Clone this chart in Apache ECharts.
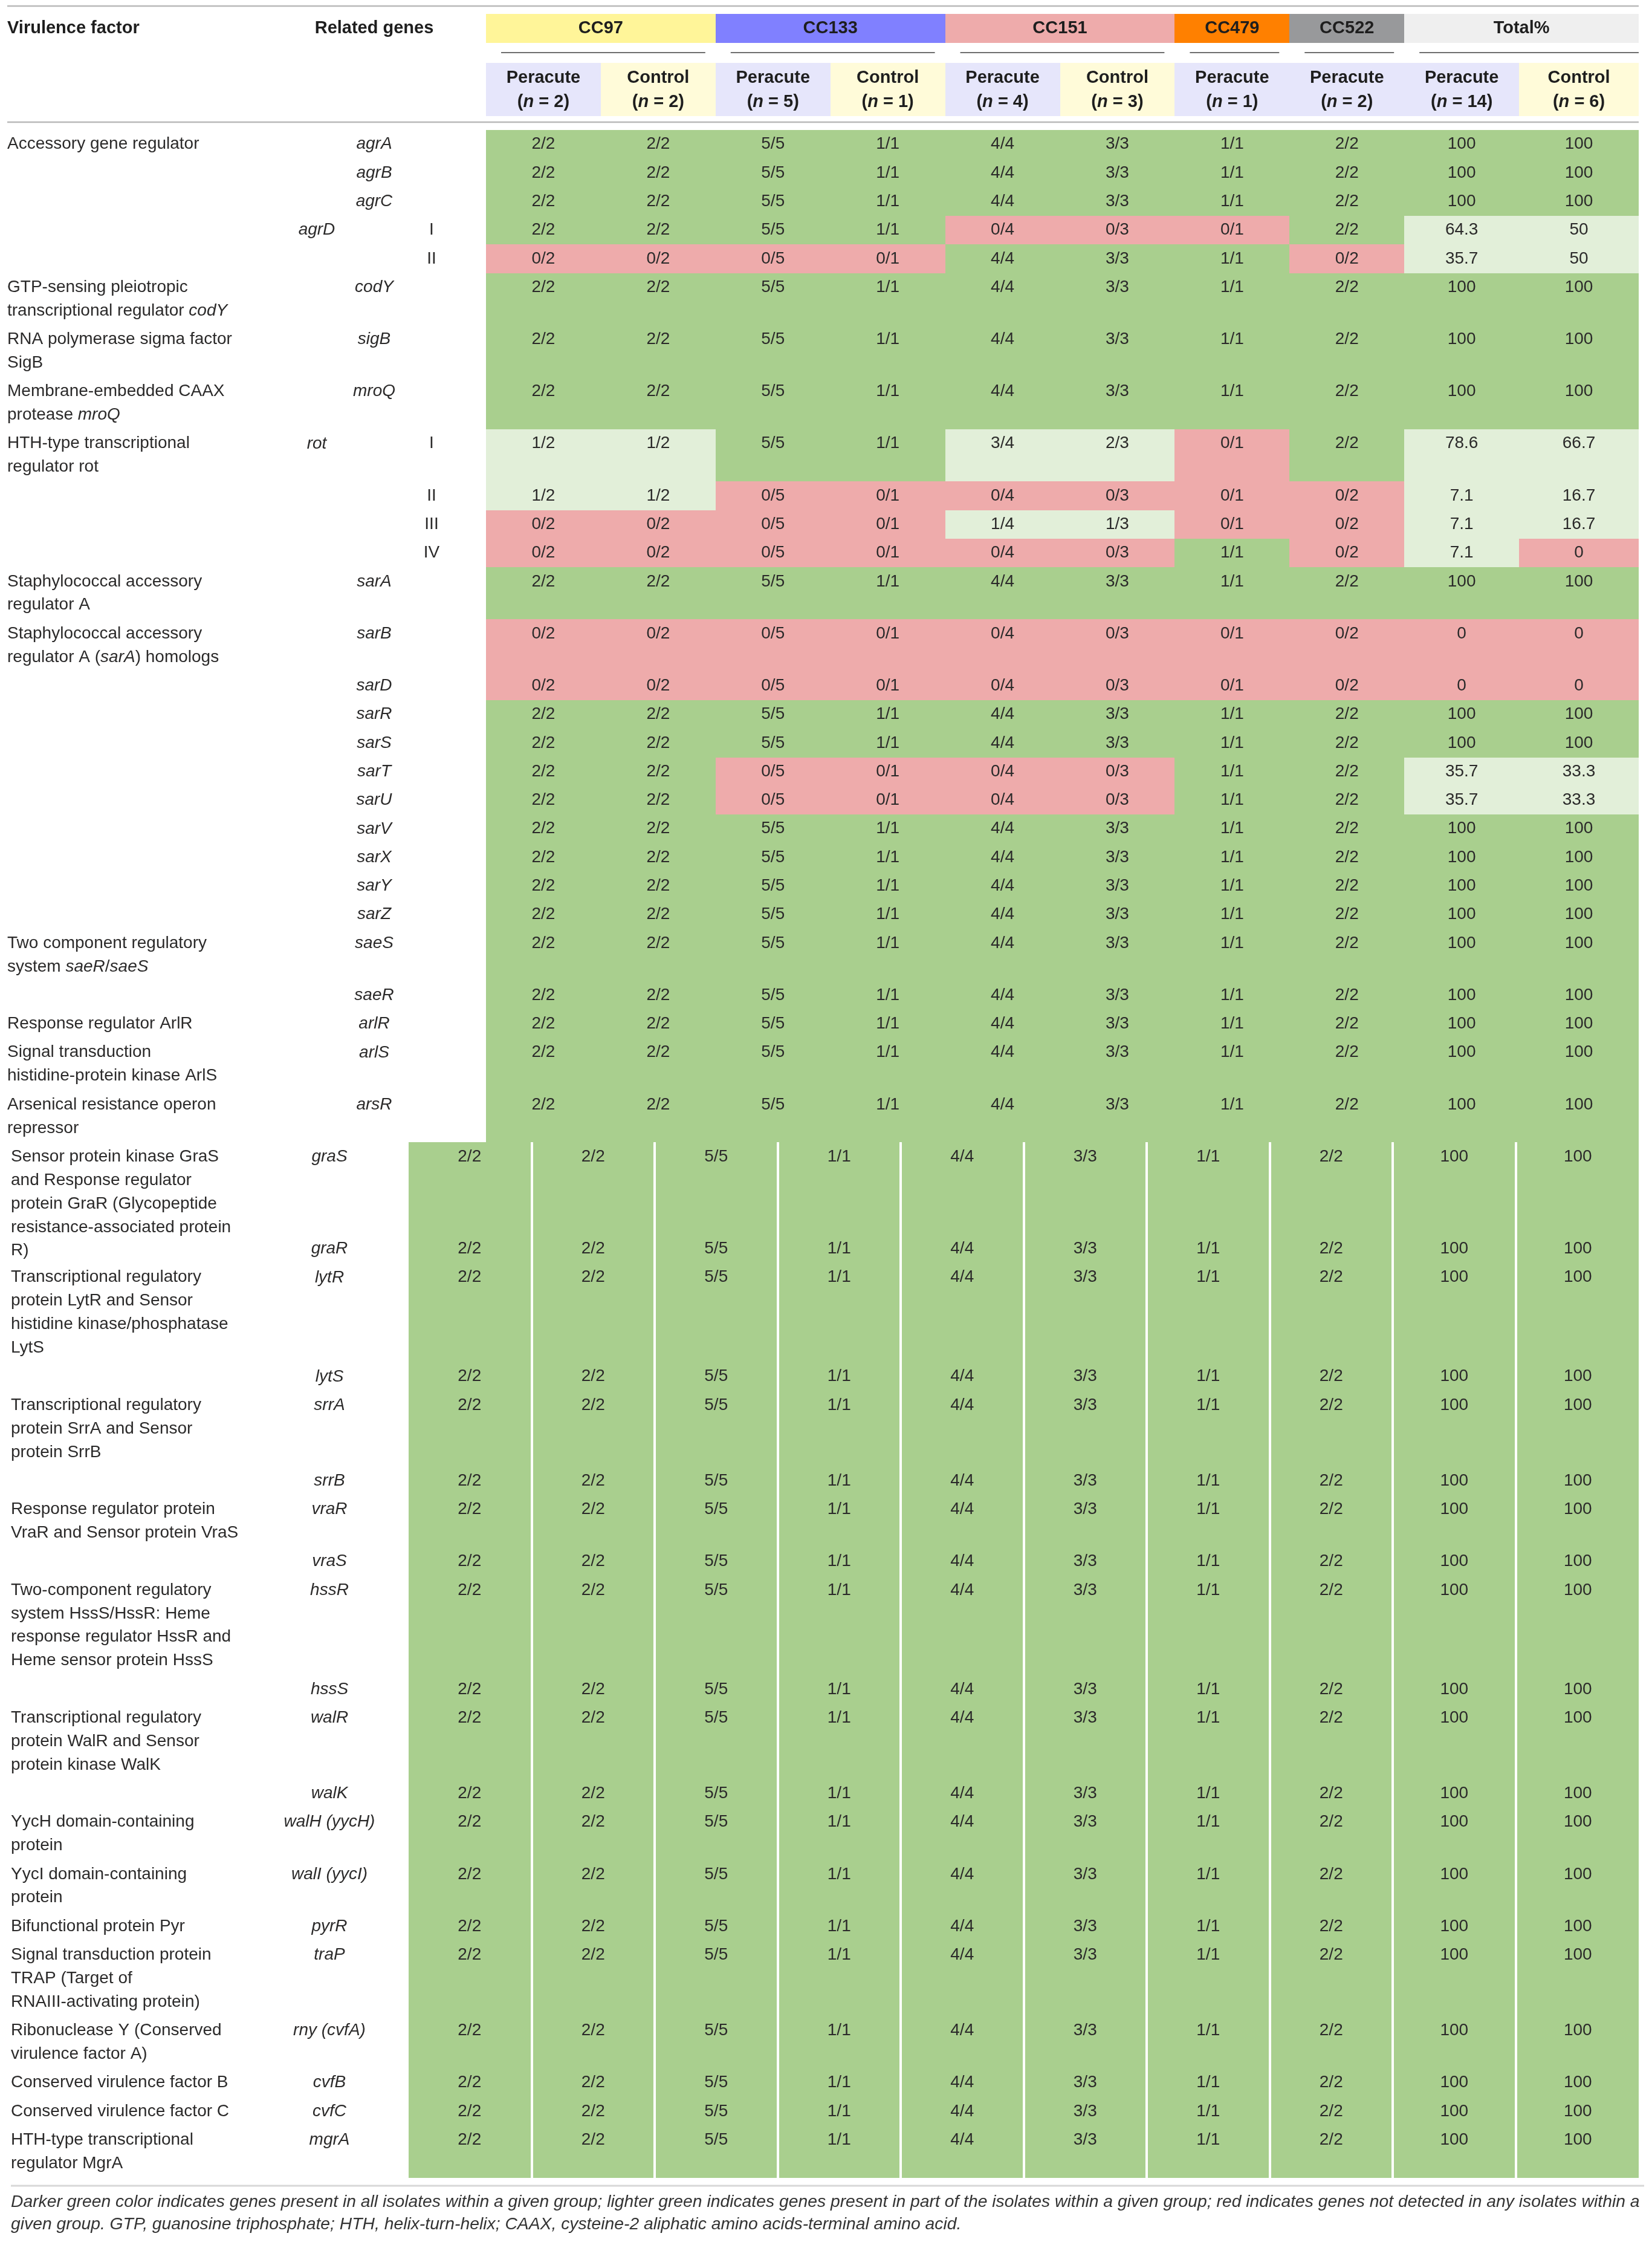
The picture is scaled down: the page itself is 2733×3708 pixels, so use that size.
<!DOCTYPE html>
<html>
<head>
<meta charset="utf-8">
<script src="https://cdn.jsdelivr.net/npm/echarts@6/dist/echarts.min.js"></script>
<style>
  html, body { margin: 0; padding: 0; background: #fff; }
  #main { width: 2733px; height: 3708px; }
</style>
</head>
<body>
<div id="main"></div>
<script>
// ---------- table content ----------
const groups = ['CC97', 'CC133', 'CC151', 'CC479', 'CC522', 'Total%'];
const groupSpan = [2, 2, 2, 1, 1, 2];
const subHeads = ['Peracute', 'Control', 'Peracute', 'Control', 'Peracute', 'Control', 'Peracute', 'Peracute', 'Peracute', 'Control'];
const subN = [2, 2, 5, 1, 4, 3, 1, 2, 14, 6];

// {i|...} marks italic words inside a description
const factors = [
  'Accessory gene regulator', '', '', '', '',
  'GTP-sensing pleiotropic\ntranscriptional regulator {i|codY}',
  'RNA polymerase sigma factor\nSigB',
  'Membrane-embedded CAAX\nprotease {i|mroQ}',
  'HTH-type transcriptional\nregulator rot', '', '', '',
  'Staphylococcal accessory\nregulator A',
  'Staphylococcal accessory\nregulator A ({i|sarA}) homologs',
  '', '', '', '', '', '', '', '', '',
  'Two component regulatory\nsystem {i|saeR}/{i|saeS}', '',
  'Response regulator ArlR',
  'Signal transduction\nhistidine-protein kinase ArlS',
  'Arsenical resistance operon\nrepressor',
  'Sensor protein kinase GraS\nand Response regulator\nprotein GraR (Glycopeptide\nresistance-associated protein\nR)', '',
  'Transcriptional regulatory\nprotein LytR and Sensor\nhistidine kinase/phosphatase\nLytS', '',
  'Transcriptional regulatory\nprotein SrrA and Sensor\nprotein SrrB', '',
  'Response regulator protein\nVraR and Sensor protein VraS', '',
  'Two-component regulatory\nsystem HssS/HssR: Heme\nresponse regulator HssR and\nHeme sensor protein HssS', '',
  'Transcriptional regulatory\nprotein WalR and Sensor\nprotein kinase WalK', '',
  'YycH domain-containing\nprotein',
  'YycI domain-containing\nprotein',
  'Bifunctional protein Pyr',
  'Signal transduction protein\nTRAP (Target of\nRNAIII-activating protein)',
  'Ribonuclease Y (Conserved\nvirulence factor A)',
  'Conserved virulence factor B',
  'Conserved virulence factor C',
  'HTH-type transcriptional\nregulator MgrA'
];
const genes = ['agrA', 'agrB', 'agrC', 'agrD', '', 'codY', 'sigB', 'mroQ', 'rot', '', '', '',
  'sarA', 'sarB', 'sarD', 'sarR', 'sarS', 'sarT', 'sarU', 'sarV', 'sarX', 'sarY', 'sarZ',
  'saeS', 'saeR', 'arlR', 'arlS', 'arsR', 'graS', 'graR', 'lytR', 'lytS', 'srrA', 'srrB',
  'vraR', 'vraS', 'hssR', 'hssS', 'walR', 'walK', 'walH (yycH)', 'walI (yycI)', 'pyrR',
  'traP', 'rny (cvfA)', 'cvfB', 'cvfC', 'mgrA'];
const alleles = ['', '', '', 'I', 'II', '', '', '', 'I', 'II', 'III', 'IV',
  '', '', '', '', '', '', '', '', '', '', '', '', '', '', '', '',
  '', '', '', '', '', '', '', '', '', '', '', '', '', '', '', '', '', '', '', ''];

// isolates carrying the gene, per group column
const cc97Peracute = [2, 2, 2, 2, 0, 2, 2, 2, 1, 1, 0, 0, 2, 0, 0, 2, 2, 2, 2, 2, 2, 2, 2, 2, 2, 2, 2, 2,
  2, 2, 2, 2, 2, 2, 2, 2, 2, 2, 2, 2, 2, 2, 2, 2, 2, 2, 2, 2];
const cc97Control = [2, 2, 2, 2, 0, 2, 2, 2, 1, 1, 0, 0, 2, 0, 0, 2, 2, 2, 2, 2, 2, 2, 2, 2, 2, 2, 2, 2,
  2, 2, 2, 2, 2, 2, 2, 2, 2, 2, 2, 2, 2, 2, 2, 2, 2, 2, 2, 2];
const cc133Peracute = [5, 5, 5, 5, 0, 5, 5, 5, 5, 0, 0, 0, 5, 0, 0, 5, 5, 0, 0, 5, 5, 5, 5, 5, 5, 5, 5, 5,
  5, 5, 5, 5, 5, 5, 5, 5, 5, 5, 5, 5, 5, 5, 5, 5, 5, 5, 5, 5];
const cc133Control = [1, 1, 1, 1, 0, 1, 1, 1, 1, 0, 0, 0, 1, 0, 0, 1, 1, 0, 0, 1, 1, 1, 1, 1, 1, 1, 1, 1,
  1, 1, 1, 1, 1, 1, 1, 1, 1, 1, 1, 1, 1, 1, 1, 1, 1, 1, 1, 1];
const cc151Peracute = [4, 4, 4, 0, 4, 4, 4, 4, 3, 0, 1, 0, 4, 0, 0, 4, 4, 0, 0, 4, 4, 4, 4, 4, 4, 4, 4, 4,
  4, 4, 4, 4, 4, 4, 4, 4, 4, 4, 4, 4, 4, 4, 4, 4, 4, 4, 4, 4];
const cc151Control = [3, 3, 3, 0, 3, 3, 3, 3, 2, 0, 1, 0, 3, 0, 0, 3, 3, 0, 0, 3, 3, 3, 3, 3, 3, 3, 3, 3,
  3, 3, 3, 3, 3, 3, 3, 3, 3, 3, 3, 3, 3, 3, 3, 3, 3, 3, 3, 3];
const cc479Peracute = [1, 1, 1, 0, 1, 1, 1, 1, 0, 0, 0, 1, 1, 0, 0, 1, 1, 1, 1, 1, 1, 1, 1, 1, 1, 1, 1, 1,
  1, 1, 1, 1, 1, 1, 1, 1, 1, 1, 1, 1, 1, 1, 1, 1, 1, 1, 1, 1];
const cc522Peracute = [2, 2, 2, 2, 0, 2, 2, 2, 2, 0, 0, 0, 2, 0, 0, 2, 2, 2, 2, 2, 2, 2, 2, 2, 2, 2, 2, 2,
  2, 2, 2, 2, 2, 2, 2, 2, 2, 2, 2, 2, 2, 2, 2, 2, 2, 2, 2, 2];
const totalPeracute = [100, 100, 100, 64.3, 35.7, 100, 100, 100, 78.6, 7.1, 7.1, 7.1, 100, 0, 0, 100, 100, 35.7, 35.7,
  100, 100, 100, 100, 100, 100, 100, 100, 100,
  100, 100, 100, 100, 100, 100, 100, 100, 100, 100, 100, 100, 100, 100, 100, 100, 100, 100, 100, 100];
const totalControl = [100, 100, 100, 50, 50, 100, 100, 100, 66.7, 16.7, 16.7, 0, 100, 0, 0, 100, 100, 33.3, 33.3,
  100, 100, 100, 100, 100, 100, 100, 100, 100,
  100, 100, 100, 100, 100, 100, 100, 100, 100, 100, 100, 100, 100, 100, 100, 100, 100, 100, 100, 100];

const footnote = 'Darker green color indicates genes present in all isolates within a given group; lighter green indicates genes present in part of the isolates within a given group; red indicates genes not detected in any isolates within a\n' +
  'given group. GTP, guanosine triphosphate; HTH, helix-turn-helix; CAAX, cysteine-2 aliphatic amino acids-terminal amino acid.';

// ---------- layout ----------
const W = 2733, H = 3708;
const rowLines = [1, 1, 1, 1, 1, 2, 2, 2, 2, 1, 1, 1, 2, 2, 1, 1, 1, 1, 1, 1, 1, 1, 1, 2, 1, 1, 2, 2,
  3.7, 1, 4, 1, 3, 1, 2, 1, 4, 1, 3, 1, 2, 2, 1, 3, 2, 1, 1, 2];
const LOWER_FROM = 28;          // second block of the table (wider, split columns)
const LINE = 38.9, PAD = 8.4, BODY_TOP = 215;
const UP_X0 = 804, UP_W = 189.9, RIGHT = 2711;
const LOW_X0 = 676, LOW_W = 203.5, LOW_GAP = 4;
const FONT = "'Liberation Sans', Arial, Helvetica, sans-serif";
const FS = 28;
const INK = '#2b2a2a';
const statusColor = { full: '#a9cf8e', part: '#e2efd9', none: '#eeabab' };
const groupColor = ['#fff599', '#8080ff', '#eeabab', '#ff8000', '#98999b', '#efefef'];
const subColor = { Peracute: '#e6e6fb', Control: '#fffbd9' };

const rowTop = [];
let acc = BODY_TOP;
rowLines.forEach(n => { rowTop.push(acc); acc += PAD + LINE * n; });
const rowBottom = r => rowTop[r] + PAD + LINE * rowLines[r];

const upEdge = c => (c >= 10 ? RIGHT : UP_X0 + c * UP_W);

function colSpan(r, c) {
  if (r >= LOWER_FROM) {
    return [LOW_X0 + c * LOW_W + (c > 0 ? LOW_GAP / 2 : 0),
            LOW_X0 + (c + 1) * LOW_W - (c < 9 ? LOW_GAP / 2 : 0)];
  }
  return [upEdge(c), upEdge(c + 1)];
}

// ---------- cells ----------
const countCols = [cc97Peracute, cc97Control, cc133Peracute, cc133Control,
  cc151Peracute, cc151Control, cc479Peracute, cc522Peracute];
const totalCols = [totalPeracute, totalControl];
const cellData = [];
const cellInfo = [];
for (let r = 0; r < genes.length; r++) {
  countCols.forEach((col, c) => {
    const v = col[r], n = subN[c];
    cellData.push([c, r]);
    cellInfo.push({ text: v + '/' + n, status: v === n ? 'full' : (v === 0 ? 'none' : 'part') });
  });
  totalCols.forEach((col, k) => {
    const v = col[r];
    cellData.push([8 + k, r]);
    cellInfo.push({ text: String(v), status: v === 100 ? 'full' : (v === 0 ? 'none' : 'part') });
  });
}

const richItalic = { i: { fontStyle: 'italic', fontFamily: FONT, fontSize: FS, fill: INK, lineHeight: LINE } };

function renderCell(params, api) {
  const c = api.value(0), r = api.value(1);
  const [x0, x1] = colSpan(r, c);
  const p0 = api.coord([x0, rowTop[r]]);
  const p1 = api.coord([x1, rowBottom(r)]);
  const L = Math.round(p0[0]), T = Math.round(p0[1]);
  const R = Math.round(p1[0]), B = Math.round(p1[1]);
  const info = cellInfo[params.dataIndex];
  return {
    type: 'group',
    children: [
      { type: 'rect', shape: { x: L, y: T, width: R - L, height: B - T }, style: { fill: statusColor[info.status] } },
      { type: 'text', style: {
          x: (p0[0] + p1[0]) / 2, y: p0[1] + PAD / 2 + LINE / 2, text: info.text,
          fontFamily: FONT, fontSize: FS, fill: INK, align: 'center', verticalAlign: 'middle' } }
    ]
  };
}

function renderRowText(params, api) {
  const r = api.value(1);
  const lower = r >= LOWER_FROM;
  const top = api.coord([0, rowTop[r]])[1] + PAD / 2;
  const children = [];
  if (factors[r]) {
    const p = api.coord([lower ? 18 : 12, rowTop[r]]);
    children.push({ type: 'text', style: {
      x: p[0], y: top, text: factors[r], rich: richItalic, lineHeight: LINE,
      fontFamily: FONT, fontSize: FS, fill: INK, align: 'left', verticalAlign: 'top' } });
  }
  if (genes[r]) {
    const gx = lower ? 545 : (genes[r] === 'agrD' || genes[r] === 'rot' ? 524 : 619);
    const p = api.coord([gx, rowTop[r]]);
    children.push({ type: 'text', style: {
      x: p[0], y: top, text: genes[r], lineHeight: LINE, fontStyle: 'italic',
      fontFamily: FONT, fontSize: FS, fill: INK, align: 'center', verticalAlign: 'top' } });
  }
  if (alleles[r]) {
    const p = api.coord([714, rowTop[r]]);
    children.push({ type: 'text', style: {
      x: p[0], y: top, text: alleles[r], lineHeight: LINE,
      fontFamily: FONT, fontSize: FS, fill: INK, align: 'center', verticalAlign: 'top' } });
  }
  return { type: 'group', children: children };
}

// group header bands
const groupStart = [];
groupSpan.reduce((s, n) => { groupStart.push(s); return s + n; }, 0);

function renderGroup(params, api) {
  const g = api.value(0);
  const x0 = upEdge(groupStart[g]), x1 = upEdge(groupStart[g] + groupSpan[g]);
  const p0 = api.coord([x0, 23]), p1 = api.coord([x1, 71]);
  const last = g === groups.length - 1;
  const u0 = api.coord([x0 + 25, 87]), u1 = api.coord([last ? x1 : x1 - 17, 87]);
  return {
    type: 'group',
    children: [
      { type: 'rect', shape: { x: Math.round(p0[0]), y: p0[1], width: Math.round(p1[0]) - Math.round(p0[0]), height: p1[1] - p0[1] },
        style: { fill: groupColor[g] } },
      { type: 'text', style: { x: (p0[0] + p1[0]) / 2, y: (p0[1] + p1[1]) / 2, text: groups[g],
          fontFamily: FONT, fontSize: 29, fontWeight: 'bold', fill: '#1e1e1e', align: 'center', verticalAlign: 'middle' } },
      { type: 'line', shape: { x1: u0[0], y1: u0[1], x2: u1[0], y2: u1[1] }, style: { stroke: '#6e6e6e', lineWidth: 2 } }
    ]
  };
}

function renderSub(params, api) {
  const c = api.value(0);
  const x0 = upEdge(c), x1 = upEdge(c + 1);
  const p0 = api.coord([x0, 104]), p1 = api.coord([x1, 192]);
  const cx = (p0[0] + p1[0]) / 2;
  const bold = { fontFamily: FONT, fontSize: 29, fontWeight: 'bold', fill: '#1e1e1e' };
  return {
    type: 'group',
    children: [
      { type: 'rect', shape: { x: Math.round(p0[0]), y: p0[1], width: Math.round(p1[0]) - Math.round(p0[0]), height: p1[1] - p0[1] },
        style: { fill: subColor[subHeads[c]] } },
      { type: 'text', style: Object.assign({ x: cx, y: p0[1] + 25, text: subHeads[c], align: 'center', verticalAlign: 'middle' }, bold) },
      { type: 'text', style: Object.assign({ x: cx, y: p0[1] + 65, text: '({i|n} = ' + subN[c] + ')',
          rich: { i: Object.assign({ fontStyle: 'italic' }, bold) }, align: 'center', verticalAlign: 'middle' }, bold) }
    ]
  };
}

const chart = echarts.init(document.getElementById('main'));
chart.setOption({
  animation: false,
  backgroundColor: '#ffffff',
  grid: { left: 0, right: 0, top: 0, bottom: 0 },
  xAxis: { type: 'value', min: 0, max: W, show: false },
  yAxis: { type: 'value', min: 0, max: H, inverse: true, show: false },
  graphic: [
    { type: 'line', shape: { x1: 12, y1: 10, x2: RIGHT, y2: 10 }, style: { stroke: '#b9b9b9', lineWidth: 2.5 } },
    { type: 'line', shape: { x1: 12, y1: 202, x2: RIGHT, y2: 202 }, style: { stroke: '#b9b9b9', lineWidth: 2.5 } },
    { type: 'text', x: 12, y: 47, style: { text: 'Virulence factor', fontFamily: FONT, fontSize: 29, fontWeight: 'bold',
        fill: '#1e1e1e', align: 'left', verticalAlign: 'middle' } },
    { type: 'text', x: 619, y: 47, style: { text: 'Related genes', fontFamily: FONT, fontSize: 29, fontWeight: 'bold',
        fill: '#1e1e1e', align: 'center', verticalAlign: 'middle' } },
    { type: 'line', shape: { x1: 18, y1: 3615, x2: 2720, y2: 3615 }, style: { stroke: '#d8d8d8', lineWidth: 3 } },
    { type: 'text', x: 18, y: 3624, style: { text: footnote, fontFamily: FONT, fontSize: 28.3, fontStyle: 'italic',
        lineHeight: 37, fill: '#333333', align: 'left', verticalAlign: 'top' } }
  ],
  series: [
    { type: 'custom', name: 'cells', renderItem: renderCell, data: cellData, encode: { x: 0, y: 1 }, silent: true },
    { type: 'custom', name: 'rowText', renderItem: renderRowText, data: genes.map((g, r) => [0, r]), encode: { x: 0, y: 1 }, silent: true },
    { type: 'custom', name: 'groups', renderItem: renderGroup, data: groups.map((g, i) => [i, 0]), encode: { x: 0, y: 1 }, silent: true },
    { type: 'custom', name: 'subHeads', renderItem: renderSub, data: subHeads.map((s, i) => [i, 0]), encode: { x: 0, y: 1 }, silent: true }
  ]
});
window.onresize = function () { chart.resize(); };
</script>
</body>
</html>
